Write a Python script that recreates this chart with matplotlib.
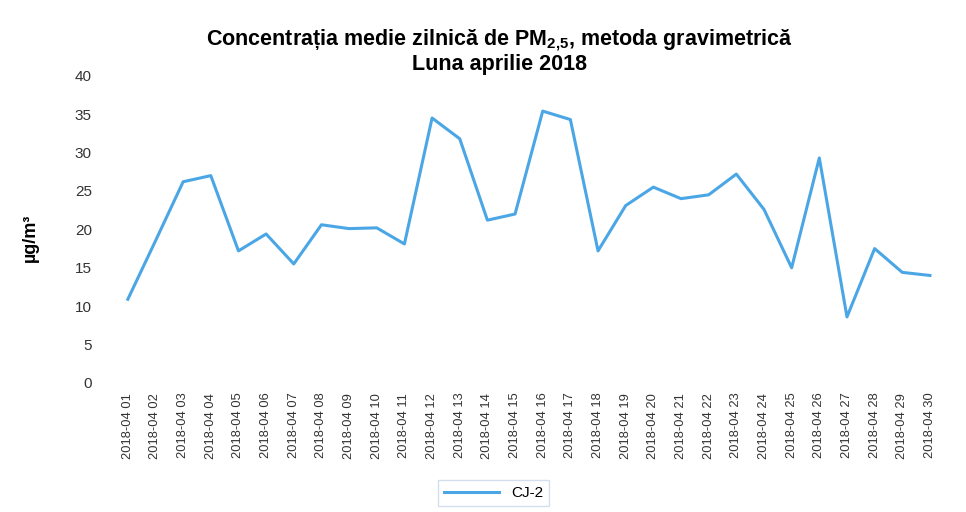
import matplotlib
matplotlib.use("Agg")
import matplotlib.pyplot as plt

# daily mean PM2.5, station CJ-2, April 2018
days = ["2018-04 %02d" % d for d in range(1, 31)]
cj2 = [10.9, 18.5, 26.2, 27.0, 17.2, 19.4, 15.5, 20.6, 20.1, 20.2,
       18.1, 34.5, 31.8, 21.2, 22.0, 35.4, 34.3, 17.2, 23.1, 25.5,
       24.0, 24.5, 27.2, 22.6, 15.0, 29.3, 8.6, 17.5, 14.4, 14.0]
yticks = [0, 5, 10, 15, 20, 25, 30, 35, 40]

plt.rcParams['font.family'] = ['Liberation Sans', 'DejaVu Sans']
plt.rcParams['mathtext.fontset'] = 'custom'
plt.rcParams['mathtext.rm'] = 'Liberation Sans'
plt.rcParams['mathtext.bf'] = 'Liberation Sans:bold'

fig = plt.figure(figsize=(9.66, 5.12), dpi=100)
ax = fig.add_axes([0.118, 0.252, 0.859, 0.600])

x = list(range(len(days)))
ax.plot(x, cj2, color="#4ba6e6", lw=2.2, label="CJ-2")

ax.set_xlim(-0.5, len(days) - 0.5)
ax.set_ylim(0, 40)
ax.set_yticks(yticks)
ax.set_xticks(x)
ax.set_xticklabels(days, rotation=90, fontsize=9.3)
ax.tick_params(axis='y', length=0, pad=16, labelsize=11, labelcolor='#333333')
ax.tick_params(axis='x', length=0, pad=7, labelcolor='#333333')
for s in ax.spines.values():
    s.set_visible(False)

fig.text(0.031, 0.535, "µg/m³", rotation=90, fontsize=13, fontweight='bold',
         ha='center', va='center')

fig.text(0.517, 0.921, r"Concentrația medie zilnică de PM$_{\mathbf{2{,}5}}$, metoda gravimetrică",
         ha='center', va='center', fontsize=15.5, fontweight='bold')
fig.text(0.517, 0.874, "Luna aprilie 2018", ha='center', va='center',
         fontsize=15.5, fontweight='bold')

leg = fig.legend(loc='center', bbox_to_anchor=(0.511, 0.037), fontsize=11,
                 handlelength=3.6, frameon=True, fancybox=False)
leg.get_frame().set_edgecolor('#c8d8e8')

fig.savefig("out.png", dpi=100)
